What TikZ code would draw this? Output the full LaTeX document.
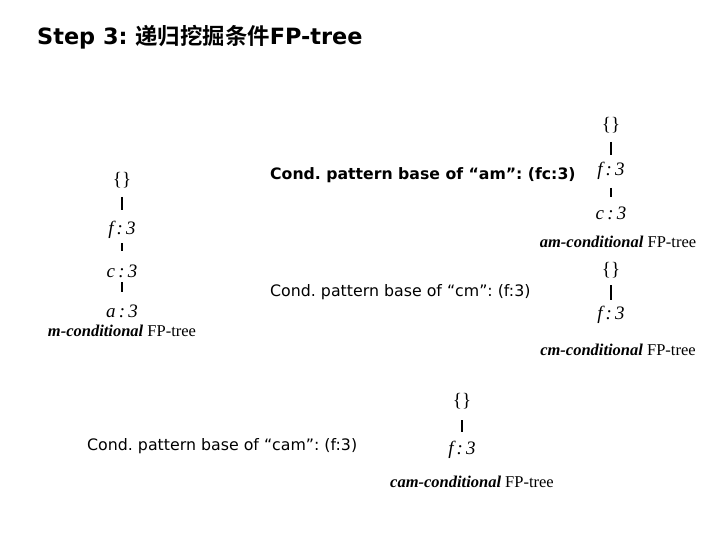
\documentclass[tikz,border=0pt]{standalone}
\usepackage{fontspec}
\setmainfont{Liberation Serif}
\newfontfamily\condfont{DejaVu Sans}
\newfontfamily\cjkbold[BoldFont={Noto Sans CJK SC Bold}]{Noto Sans CJK SC}
\frenchspacing
\begin{document}
\begin{tikzpicture}[x=1pt,y=-1pt,
  cond/.style={anchor=west,inner sep=0pt,font=\condfont\fontsize{15.8}{18}\selectfont},
  tlab/.style={inner sep=0pt,font=\fontsize{19}{21}\selectfont\itshape},
  tcap/.style={inner sep=0pt,font=\fontsize{16.5}{18}\selectfont},
  tline/.style={line width=2.4pt,draw=black}]
\useasboundingbox[fill=white] (0,0) rectangle (720,540);
% title
\node[anchor=west,inner sep=0pt,font=\condfont\bfseries\fontsize{22.4}{26}\selectfont] (title) at (37,37)
  {Step 3: {\cjkbold\bfseries 递归挖掘条件}FP-tree};
% m tree
\node[tlab] (L0) at (122,180) {\upshape\{\}};
\node[tlab] (L1) at (122,230) {f\,:\,3};
\node[tlab] (L2) at (122,271) {c\,:\,3};
\node[tlab] (L3) at (122,311) {a\,:\,3};
\node[tcap] (Lc) at (122,331) {\textbf{\textit{m-conditional}} FP-tree};
\draw[tline] ([yshift=-17pt]L0.center) -- ([yshift=20pt]L1.center);
\draw[tline] ([yshift=-13pt]L1.center) -- ([yshift=20pt]L2.center);
\draw[tline] ([yshift=-11pt]L2.center) -- ([yshift=19pt]L3.center);
% am
\node[cond,font=\condfont\bfseries\fontsize{15.7}{18}\selectfont] (am) at (270,175) {Cond. pattern base of “am”: (fc:3)};
\node[tlab] (A0) at (611,125) {\upshape\{\}};
\node[tlab] (A1) at (611,171) {f\,:\,3};
\node[tlab] (A2) at (611,213) {c\,:\,3};
\node[tcap] (Ac) at (618,242) {\textbf{\textit{am-conditional}} FP-tree};
\draw[tline] ([yshift=-17pt]A0.center) -- ([yshift=16pt]A1.center);
\draw[tline] ([yshift=-17pt]A1.center) -- ([yshift=16pt]A2.center);
% cm
\node[cond] (cm) at (270,292) {Cond. pattern base of “cm”: (f:3)};
\node[tlab] (C0) at (611,270) {\upshape\{\}};
\node[tlab] (C1) at (611,315) {f\,:\,3};
\node[tcap] (Cc) at (618,350) {\textbf{\textit{cm-conditional}} FP-tree};
\draw[tline] ([yshift=-15pt]C0.center) -- ([yshift=15pt]C1.center);
% cam
\node[cond] (cam) at (87,446) {Cond. pattern base of “cam”: (f:3)};
\node[tlab] (M0) at (462,401) {\upshape\{\}};
\node[tlab] (M1) at (462,450) {f\,:\,3};
\node[tcap] (Mc) at (472,482) {\textbf{\textit{cam-conditional}} FP-tree};
\draw[tline] ([yshift=-19pt]M0.center) -- ([yshift=18pt]M1.center);
\end{tikzpicture}
\end{document}
